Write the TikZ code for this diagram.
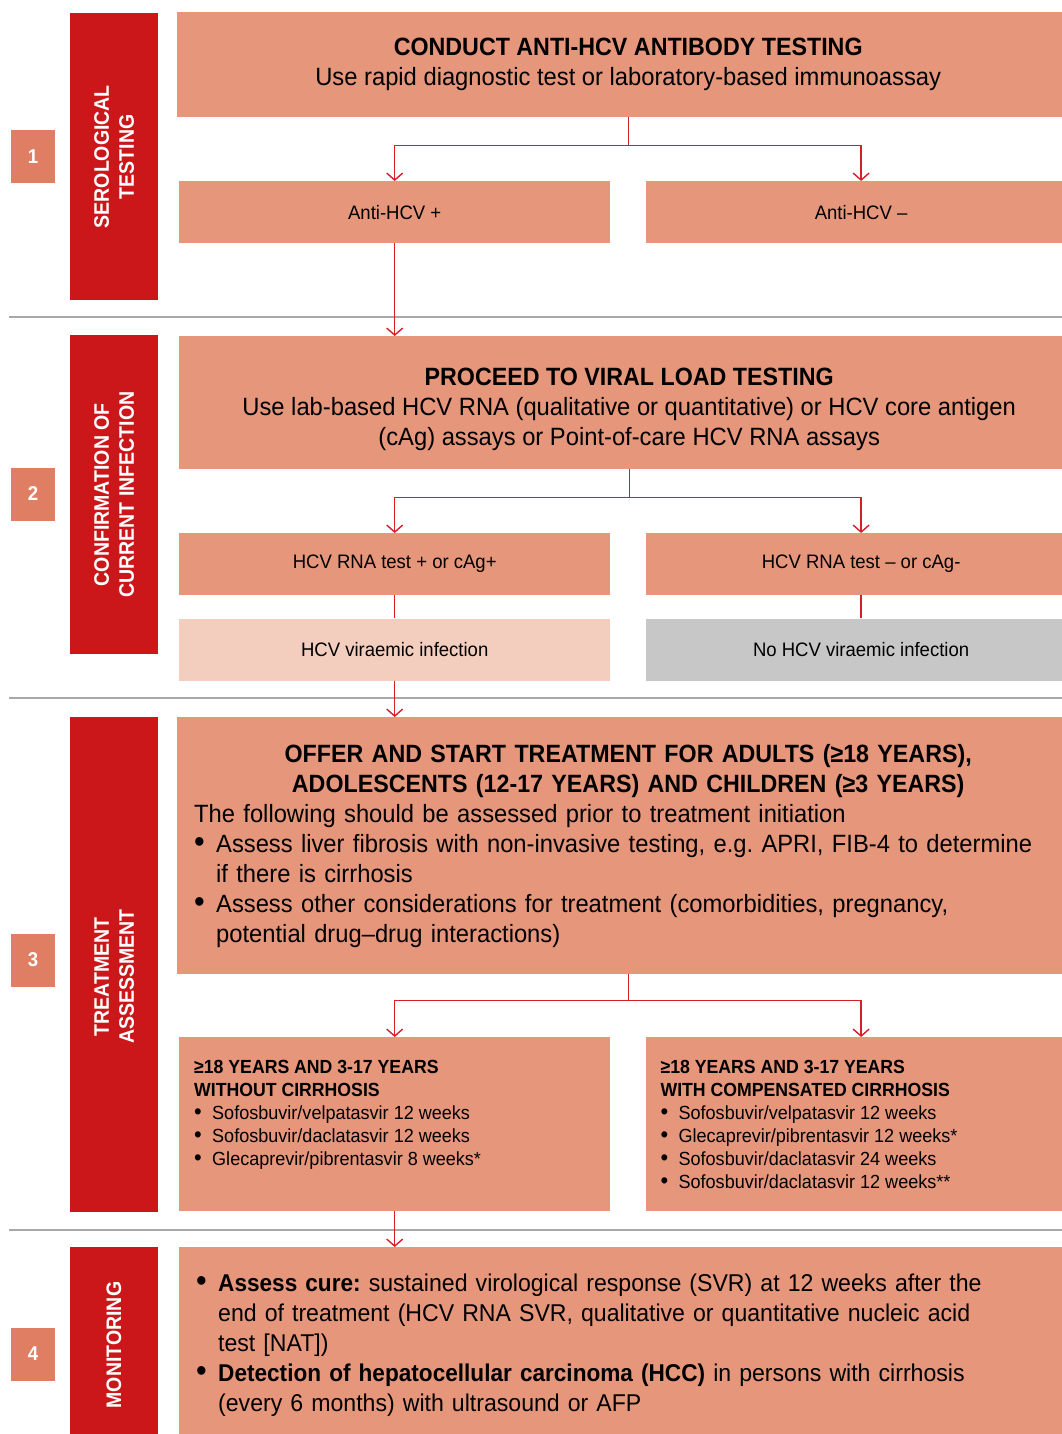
\documentclass[tikz,border=0pt]{standalone}
\usepackage{fontspec}
\setmainfont{Liberation Sans}[FakeStretch=0.95, BoldFeatures={FakeStretch=0.93}]
\usetikzlibrary{arrows.meta,positioning}
\frenchspacing
\definecolor{hcvsalmon}{HTML}{E6967B}
\definecolor{hcvnum}{HTML}{E07E63}
\definecolor{hcvred}{HTML}{CC171A}
\definecolor{hcvpale}{HTML}{F3CDBD}
\definecolor{hcvgreybox}{HTML}{C7C7C7}
\definecolor{hcvline}{HTML}{D42027}
\definecolor{hcvrule}{HTML}{A8A8A8}
\newcommand{\bodyfont}{\fontsize{25}{30}\selectfont}
\newcommand{\smallfont}{\fontsize{19.5}{23}\selectfont}
\newcommand{\listfont}{\fontsize{19}{23}\selectfont}
\newcommand{\sidefont}{\fontsize{21}{25}\selectfont\bfseries}
\newcommand{\bitem}[1]{\makebox[22pt][l]{\fontsize{32}{30}\selectfont\textbullet}#1}
\newcommand{\litem}[1]{\makebox[18pt][l]{\fontsize{23}{23}\selectfont\textbullet}#1}
\tikzset{
    %Define standard arrow tip
    >={Straight Barb[length=7pt,width=16pt]},
    %Define style for boxes
    sidebar/.style={
           rectangle,
           fill=hcvred,
           anchor=north west,
           inner sep=0pt,
           minimum width=88},
    sidelabel/.style={
           rotate=90,
           text=white,
           font=\sidefont,
           align=center},
    numbox/.style={
           rectangle,
           fill=hcvnum,
           inner sep=0pt,
           minimum width=44,
           minimum height=53,
           text=white,
           font=\fontsize{20}{22}\selectfont\bfseries},
    bigbox/.style={
           rectangle,
           fill=hcvsalmon,
           anchor=north west,
           inner sep=0pt,
           minimum width=902,
           font=\bodyfont},
    halfbox/.style={
           rectangle,
           fill=hcvsalmon,
           anchor=north west,
           inner sep=0pt,
           minimum width=431,
           minimum height=62,
           font=\smallfont},
    listtext/.style={
           anchor=north west,
           inner sep=0pt,
           align=left,
           font=\listfont},
    % Define arrow style
    flow/.style={
           ->,
           draw=hcvline,
           line width=1.4pt},
    link/.style={
           draw=hcvline,
           line width=1.4pt},
    divider/.style={
           draw=hcvrule,
           line width=2pt}
}
\begin{document}
\begin{tikzpicture}[x=1pt,y=-1pt]
\useasboundingbox (0,0) rectangle (1062,1434);
\clip (0,0) rectangle (1062,1434);

 %section rules
\draw[divider] (9,317) -- (1062,317);
\draw[divider] (9,697.5) -- (1062,697.5);
\draw[divider] (9,1230) -- (1062,1230);

 %side bars and steps
\node[sidebar, minimum height=287] (serobar) at (70,13) {};
\node[sidebar, minimum height=319] (confbar) at (70,335) {};
\node[sidebar, minimum height=495] (treatbar) at (70,717) {};
\node[sidebar, minimum height=200] (monbar) at (70,1247) {};
\node[sidelabel] (serolabel) at (serobar.center) {SEROLOGICAL\\TESTING};
\node[sidelabel] (conflabel) at (confbar.center) {CONFIRMATION OF\\CURRENT INFECTION};
\node[sidelabel] (treatlabel) at ([yshift=-12pt]treatbar.center) {TREATMENT\\ASSESSMENT};
\node[sidelabel] (monlabel) at (114,1345) {MONITORING};
\node[numbox] (step1) at (33,156.5) {1};
\node[numbox] (step2) at (33,494) {2};
\node[numbox] (step3) at (33,960) {3};
\node[numbox] (step4) at (33,1354) {4};

 %stage 1
\node[bigbox, minimum height=105, align=center] (antibody) at (177,12)
  {\textbf{CONDUCT ANTI-HCV ANTIBODY TESTING}\\Use rapid diagnostic test or laboratory-based immunoassay};
\node[halfbox] (antipos) at (179,181) {Anti-HCV +};
\node[halfbox, right=35pt of antipos] (antineg) {Anti-HCV –};

 %stage 2
\node[bigbox, minimum width=900, minimum height=133, align=center] (viral) at (179,336)
  {\rule{0pt}{31pt}\textbf{PROCEED TO VIRAL LOAD TESTING}\\Use lab-based HCV RNA (qualitative or quantitative) or HCV core antigen\\(cAg) assays or Point-of-care HCV RNA assays};
\node[halfbox] (rnapos) at (179,533) {HCV RNA test + or cAg+};
\node[halfbox, right=35pt of rnapos] (rnaneg) {HCV RNA test – or cAg-};
\node[halfbox, fill=hcvpale, below=23pt of rnapos] (viraemic) {HCV viraemic infection};
\node[halfbox, fill=hcvgreybox, below=23pt of rnaneg] (noviraemic) {No HCV viraemic infection};

 %stage 3
\node[bigbox, minimum height=257, inner xsep=17pt, text width=868pt, align=left] (treat) at (177,717)
  {\makebox[868pt]{\bfseries OFFER AND START TREATMENT FOR ADULTS (≥18 YEARS),}\\
   \makebox[868pt]{\bfseries ADOLESCENTS (12-17 YEARS) AND CHILDREN (≥3 YEARS)}\\
   The following should be assessed prior to treatment initiation\\
   \bitem{Assess liver fibrosis with non-invasive testing, e.g. APRI, FIB-4 to determine}\\
   \hspace*{22pt}if there is cirrhosis\\
   \bitem{Assess other considerations for treatment (comorbidities, pregnancy,}\\
   \hspace*{22pt}potential drug–drug interactions)};
\node[halfbox, minimum height=174] (nocirr) at (179,1037) {};
\node[halfbox, minimum height=174, right=35pt of nocirr] (compcirr) {};
\node[listtext] (nocirrtxt) at ([xshift=15pt,yshift=-23pt]nocirr.north west)
  {\textbf{≥18 YEARS AND 3-17 YEARS}\\
   \textbf{WITHOUT CIRRHOSIS}\\
   \litem{Sofosbuvir/velpatasvir 12 weeks}\\
   \litem{Sofosbuvir/daclatasvir 12 weeks}\\
   \litem{Glecaprevir/pibrentasvir 8 weeks*}};
\node[listtext] (compcirrtxt) at ([xshift=15pt,yshift=-23pt]compcirr.north west)
  {\textbf{≥18 YEARS AND 3-17 YEARS}\\
   \textbf{WITH COMPENSATED CIRRHOSIS}\\
   \litem{Sofosbuvir/velpatasvir 12 weeks}\\
   \litem{Glecaprevir/pibrentasvir 12 weeks*}\\
   \litem{Sofosbuvir/daclatasvir 24 weeks}\\
   \litem{Sofosbuvir/daclatasvir 12 weeks**}};

 %stage 4
\node[bigbox, minimum width=900, minimum height=196, inner xsep=17pt, text width=866pt, align=left,
  font=\fontsize{24.3}{30}\selectfont] (monitor) at (179,1247)
  {\bitem{\textbf{Assess cure:} sustained virological response (SVR) at 12 weeks after the}\\
   \hspace*{22pt}end of treatment (HCV RNA SVR, qualitative or quantitative nucleic acid\\
   \hspace*{22pt}test [NAT])\\
   \bitem{\textbf{Detection of hepatocellular carcinoma (HCC)} in persons with cirrhosis}\\
   \hspace*{22pt}(every 6 months) with ultrasound or AFP};

 %connectors
\draw[flow] (antibody.south) -- ++(0,28) -| (antipos.north);
\draw[flow] (antibody.south) -- ++(0,28) -| (antineg.north);
\draw[flow] (antipos.south) -- (antipos.south |- viral.north);
\draw[flow] (viral.south) -- ++(0,28) -| (rnapos.north);
\draw[flow] (viral.south) -- ++(0,28) -| (rnaneg.north);
\draw[link] (rnapos.south) -- (viraemic.north);
\draw[link] (rnaneg.south) -- (noviraemic.north);
\draw[flow] (viraemic.south) -- (viraemic.south |- treat.north);
\draw[flow] (treat.south) -- ++(0,26) -| (nocirr.north);
\draw[flow] (treat.south) -- ++(0,26) -| (compcirr.north);
\draw[flow] (nocirr.south) -- (nocirr.south |- monitor.north);
\end{tikzpicture}
\end{document}
